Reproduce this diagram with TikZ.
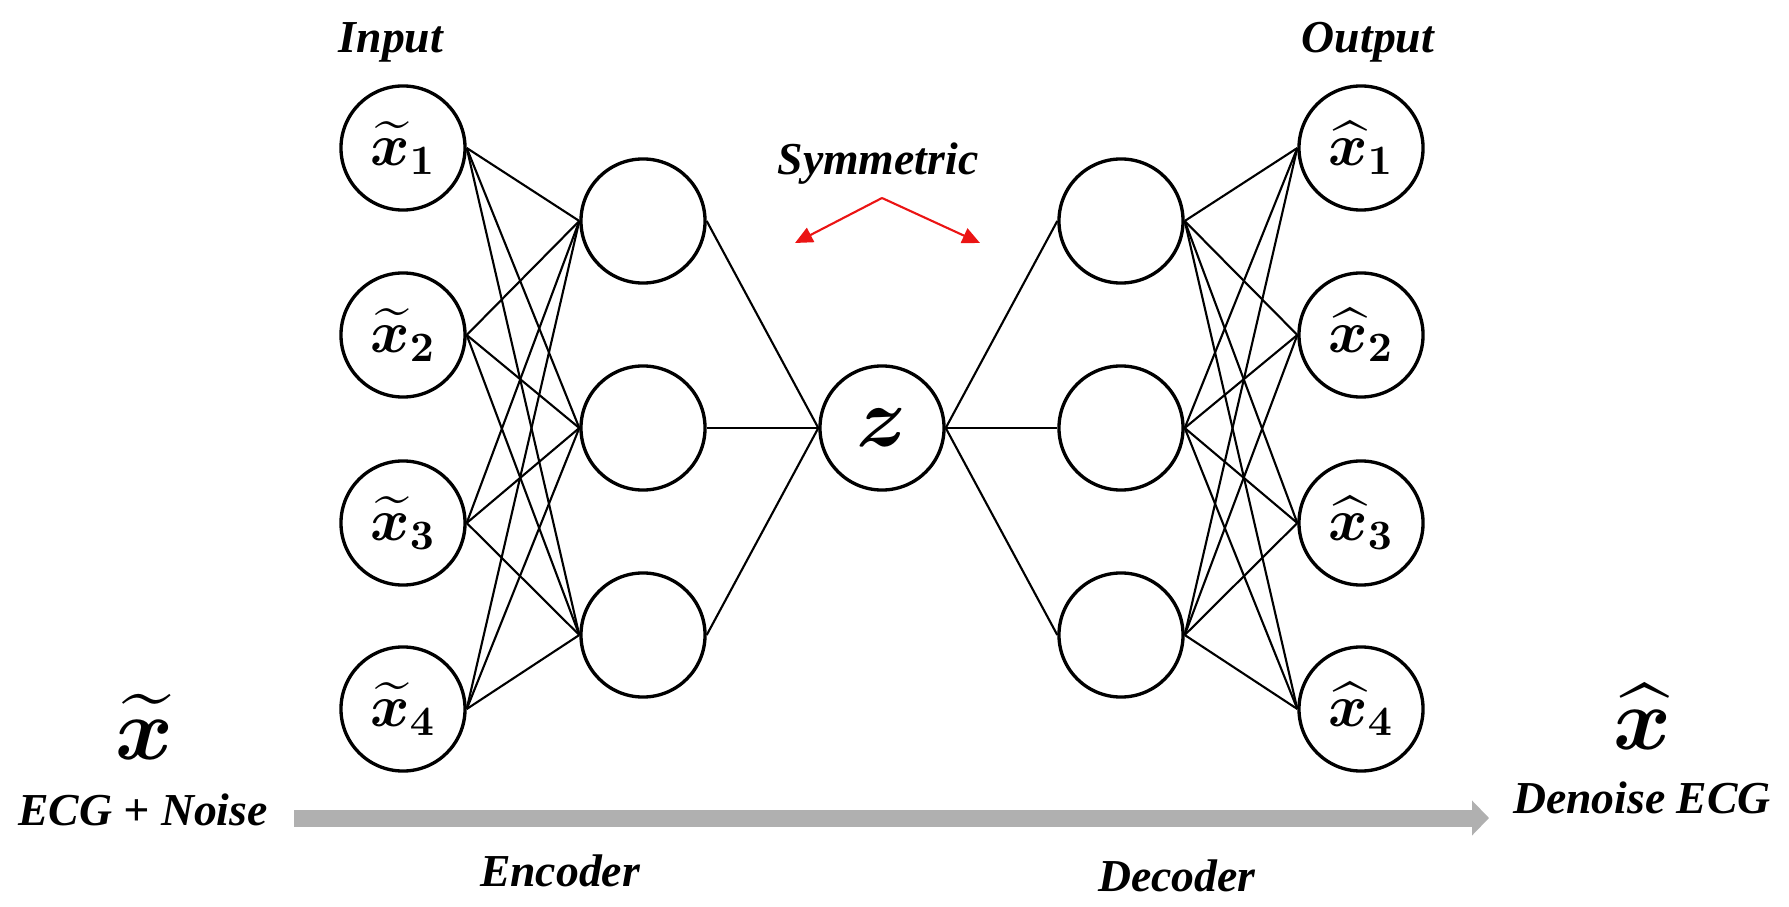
\RequirePackage{fix-cm}
\documentclass[tikz,border=0pt]{standalone}
\usepackage{amsmath,bm}
\usepackage[no-math]{fontspec}
\setmainfont{Liberation Serif}
\usetikzlibrary{arrows.meta}
\definecolor{arrowgray}{RGB}{176,176,176}
\definecolor{symred}{RGB}{235,20,20}
\begin{document}
\begin{tikzpicture}[x=0.01cm,y=-0.01cm,
  neuron/.style={circle,draw,line width=0.95pt,minimum size=1.24cm,inner sep=0pt,
    font=\fontsize{17}{17}\selectfont},
  conn/.style={line width=0.6pt},
  lbl/.style={anchor=base,inner sep=0pt,font=\fontsize{13}{15}\selectfont\bfseries\itshape},
  bigmath/.style={anchor=base,inner sep=0pt,font=\fontsize{25}{25}\selectfont}]
\useasboundingbox (0,0) rectangle (1789,907);

% input layer
\foreach \i/\y in {1/148,2/335,3/523,4/709}
  \node[neuron] (in\i) at (403,\y) {$\widetilde{\bm{x}}_{\mathbf{\i}}$};
% encoder hidden
\foreach \j/\y in {1/221,2/428,3/635}
  \node[neuron] (e\j) at (643,\y) {};
% code
\node[neuron,font=\fontsize{24}{24}\selectfont] (z) at (882,428) {$\bm{z}$};
% decoder hidden
\foreach \j/\y in {1/221,2/428,3/635}
  \node[neuron] (d\j) at (1121,\y) {};
% output layer
\foreach \i/\y in {1/148,2/335,3/523,4/709}
  \node[neuron] (out\i) at (1361,\y) {$\widehat{\bm{x}}_{\mathbf{\i}}$};

% connections
\foreach \i in {1,...,4}
  \foreach \j in {1,2,3}
    \draw[conn] (in\i.east) -- (e\j.west);
\foreach \j in {1,2,3} {
  \draw[conn] (e\j.east) -- (z.west);
  \draw[conn] (z.east) -- (d\j.west);
}
\foreach \j in {1,2,3}
  \foreach \i in {1,...,4}
    \draw[conn] (d\j.east) -- (out\i.west);

% labels
\node[lbl] (linput) at (391,53) {Input};
\node[lbl] (loutput) at (1368,53) {Output};
\node[lbl] (lsym) at (878,175) {Symmetric};
\node[lbl] (lnoise) at (143,825) {ECG + Noise};
\node[lbl] (ldenoise) at (1642,813) {Denoise ECG};
\node[lbl] (lenc) at (560,886) {Encoder};
\node[lbl] (ldec) at (1177,891) {Decoder};
\node[bigmath] (xtil) at (144,759) {$\widetilde{\bm{x}}$};
\node[bigmath] (xhat) at (1642,749) {$\widehat{\bm{x}}$};

% symmetric arrows
\coordinate (apex) at (882,198);
\coordinate (symL) at (795,243);
\coordinate (symR) at (980,243);
\draw[symred,line width=0.6pt,-{Triangle[length=5pt,width=4.5pt]}] (apex) -- (symL);
\draw[symred,line width=0.6pt,-{Triangle[length=5pt,width=4.5pt]}] (apex) -- (symR);

% flow arrow
\coordinate (gs) at (294,818);
\coordinate (ge) at (1489,818);
\draw[arrowgray,line width=0.17cm,-{Triangle[length=0.17cm,width=0.34cm]}] (gs) -- (ge);
\end{tikzpicture}
\end{document}
